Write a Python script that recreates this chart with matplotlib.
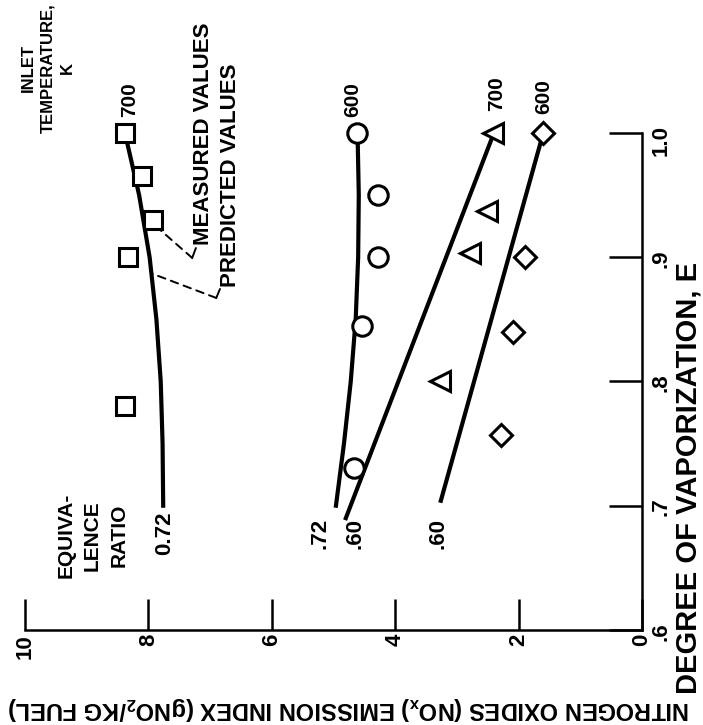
import matplotlib
matplotlib.use("Agg")
import numpy as np
import matplotlib.pyplot as plt

plt.rcParams['font.family'] = ['Liberation Sans', 'DejaVu Sans']
plt.rcParams['font.weight'] = 'bold'

# Measured values (degree of vaporization E, NOx emission index)
sq_E = [1.00, 0.965, 0.93, 0.90, 0.78]          # 700 K, phi 0.72
sq_nox = [8.38, 8.10, 7.93, 8.33, 8.38]
circ_E = [1.00, 0.95, 0.90, 0.845, 0.73]        # 600 K, phi 0.72
circ_nox = [4.62, 4.28, 4.28, 4.54, 4.67]
tri_E = [1.00, 0.937, 0.903, 0.80]              # 700 K, phi 0.60
tri_nox = [2.41, 2.51, 2.79, 3.27]
dia_E = [1.00, 0.90, 0.84, 0.757]               # 600 K, phi 0.60
dia_nox = [1.60, 1.90, 2.09, 2.29]

# Predicted values
pred_E = [0.70, 0.75, 0.80, 0.85, 0.90, 0.95, 1.00]
pred_700_72 = [7.76, 7.77, 7.80, 7.87, 7.98, 8.15, 8.38]
pred_600_72 = [4.96, 4.83, 4.72, 4.64, 4.60, 4.59, 4.61]
line_700_60_E = [0.69, 1.00]
line_700_60 = [4.80, 2.40]
line_600_60_E = [0.704, 1.00]
line_600_60 = [3.26, 1.60]

nox_ticks = [10, 8, 6, 4, 2, 0]
E_ticks = [0.6, 0.7, 0.8, 0.9, 1.0]
E_labels = ['.6', '.7', '.8', '.9', '1.0']

fig = plt.figure(figsize=(7.03, 7.25), dpi=100)
ax = fig.add_axes([0, 0, 1, 1])
ax.set_xlim(10.405, -0.989)
ax.set_ylim(0.5235, 1.107)

# axes (chart is shown turned on its side)
for s in ['left', 'top']:
    ax.spines[s].set_visible(False)
ax.spines['bottom'].set_position(('data', 0.6))
ax.spines['bottom'].set_bounds(0, 10)
ax.spines['right'].set_position(('data', 0))
ax.spines['right'].set_bounds(0.6, 1.0)
for s in ['bottom', 'right']:
    ax.spines[s].set_linewidth(1.8)
ax.yaxis.tick_right()
ax.set_xticks(nox_ticks)
ax.set_xticklabels([str(t) for t in nox_ticks])
ax.set_yticks(E_ticks)
ax.set_yticklabels(E_labels)
ax.tick_params(axis='x', direction='in', length=22, width=1.8, pad=3,
               labelsize=16, labelrotation=90)
ax.tick_params(axis='y', direction='in', length=24, width=1.8, pad=6,
               labelsize=16, labelrotation=90)

# predicted curves
lw = 3
ax.plot(pred_700_72, pred_E, color='black', lw=lw)
ax.plot(pred_600_72, pred_E, color='black', lw=lw)
ax.plot(line_700_60, line_700_60_E, color='black', lw=lw)
ax.plot(line_600_60, line_600_60_E, color='black', lw=lw)

# measured points
mk = dict(ls='none', mfc='white', mec='black', mew=2.2, zorder=3)
ax.plot(sq_nox, sq_E, marker='s', ms=13, **mk)
ax.plot(circ_nox, circ_E, marker='o', ms=14, **mk)
ax.plot(tri_nox, tri_E, marker='<', ms=14, **mk)
ax.plot(dia_nox, dia_E, marker='D', ms=11, **mk)

# labels
ax.text(9.63, 1.1046, 'INLET\nTEMPERATURE,\nK', rotation=90, ha='center', va='top',
        multialignment='center', fontsize=12, linespacing=1.4)
for x, y, s in [(8.30, 1.027, '700'), (4.68, 1.027, '600'),
                (2.35, 1.032, '700'), (1.60, 1.029, '600')]:
    ax.text(x, y, s, rotation=90, ha='center', va='center', fontsize=15)

# leaders: dashed from the point, short solid hook up to the label
dash = dict(arrowstyle='-', ls=(0, (4, 3)), lw=1.4, color='black', shrinkA=0, shrinkB=0)
solid = dict(arrowstyle='-', lw=1.4, color='black', shrinkA=0, shrinkB=0)
ax.annotate('', xy=(sq_nox[2] - 0.12, sq_E[2] - 0.008), xytext=(7.29, 0.8994), arrowprops=dash)
ax.annotate('', xy=(7.29, 0.8994), xytext=(7.23, 0.9074), arrowprops=solid)
ax.text(7.10, 0.9099, 'MEASURED VALUES', rotation=90, ha='center', va='bottom', fontsize=16)
p_E = 0.887
p_nox = np.interp(p_E, pred_E, pred_700_72)
ax.annotate('', xy=(p_nox, p_E), xytext=(6.90, 0.8672), arrowprops=dash)
ax.annotate('', xy=(6.90, 0.8672), xytext=(6.84, 0.8744), arrowprops=solid)
ax.text(6.67, 0.8761, 'PREDICTED VALUES', rotation=90, ha='center', va='bottom', fontsize=16)

ax.text(8.91, 0.676, 'EQUIVA-\nLENCE\nRATIO', rotation=90, ha='center', va='center',
        multialignment='center', fontsize=15, linespacing=1.5)
for x, s in [(7.73, '0.72'), (5.22, '.72'), (4.65, '.60'), (3.31, '.60')]:
    ax.text(x, 0.678, s, rotation=90, ha='center', va='center', fontsize=16)

ax.text(-0.75, 0.722, 'DEGREE OF VAPORIZATION, E', rotation=90, ha='center', va='center',
        fontsize=21)
ax.text(4.75, 0.537, 'NITROGEN OXIDES (NO$_\\mathregular{x}$) EMISSION INDEX (gNO$_\\mathregular{2}$/KG FUEL)',
        rotation=180, ha='center', va='center', fontsize=17)

fig.savefig('out.png', dpi=100)
